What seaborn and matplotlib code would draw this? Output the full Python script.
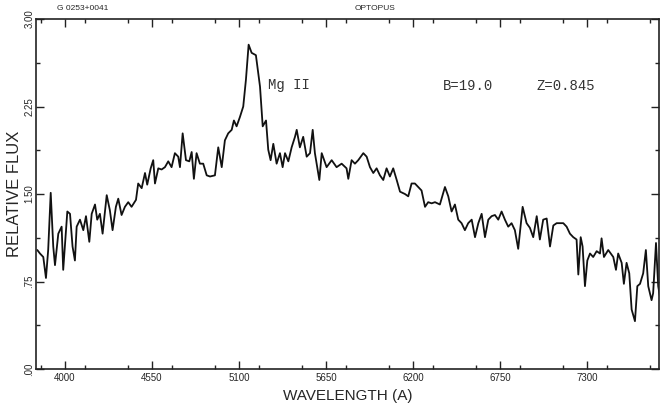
import matplotlib
matplotlib.use("Agg")
import matplotlib.pyplot as plt
import seaborn as sns
import pandas as pd
from matplotlib.ticker import MultipleLocator

sns.set_style("ticks")
plt.rcParams['font.family'] = ['Liberation Sans', 'DejaVu Sans']

wavelength = [3825, 3842, 3863, 3880, 3894, 3910, 3926, 3937, 3958, 3979, 3989, 4015, 4032, 4048,
              4063, 4074, 4095, 4116, 4133, 4154, 4169, 4190, 4204, 4221, 4238, 4264, 4284, 4301,
              4322, 4337, 4358, 4379, 4400, 4421, 4449, 4463, 4485, 4506, 4520, 4542, 4558, 4569,
              4590, 4611, 4632, 4653, 4674, 4695, 4716, 4727, 4744, 4765, 4786, 4801, 4815, 4832,
              4853, 4874, 4896, 4917, 4948, 4969, 4991, 5011, 5032, 5054, 5068, 5085, 5106, 5127,
              5144, 5161, 5180, 5207, 5233, 5250, 5271, 5285, 5300, 5317, 5338, 5359, 5376, 5391,
              5412, 5433, 5454, 5465, 5485, 5506, 5528, 5549, 5566, 5580, 5608, 5623, 5654, 5686,
              5717, 5749, 5780, 5791, 5812, 5833, 5854, 5886, 5907, 5928, 5949, 5970, 5991, 6012,
              6033, 6054, 6075, 6097, 6118, 6149, 6170, 6191, 6212, 6233, 6254, 6276, 6296, 6318,
              6339, 6370, 6402, 6423, 6444, 6465, 6486, 6507, 6528, 6549, 6571, 6592, 6613, 6634,
              6655, 6676, 6697, 6718, 6739, 6760, 6781, 6802, 6823, 6844, 6865, 6893, 6918, 6939,
              6960, 6982, 7002, 7023, 7045, 7066, 7087, 7108, 7150, 7171, 7192, 7213, 7234, 7245,
              7260, 7272, 7287, 7302, 7319, 7339, 7361, 7382, 7392, 7407, 7434, 7466, 7483, 7497,
              7519, 7533, 7550, 7567, 7582, 7603, 7618, 7635, 7655, 7672, 7687, 7708, 7718, 7736,
              7750, 7761]
flux = [1.02, 0.99, 0.96, 0.78, 1.02, 1.51, 1.05, 0.89, 1.16, 1.22, 0.85, 1.35, 1.33, 1.05,
        0.93, 1.22, 1.28, 1.19, 1.31, 1.09, 1.33, 1.41, 1.28, 1.33, 1.16, 1.49, 1.36, 1.19,
        1.39, 1.46, 1.32, 1.39, 1.43, 1.39, 1.45, 1.59, 1.55, 1.68, 1.58, 1.72, 1.79, 1.59,
        1.72, 1.71, 1.73, 1.78, 1.73, 1.85, 1.82, 1.73, 2.02, 1.79, 1.78, 1.86, 1.63, 1.85,
        1.76, 1.76, 1.66, 1.65, 1.66, 1.90, 1.73, 1.96, 2.02, 2.05, 2.13, 2.08, 2.16, 2.25,
        2.48, 2.78, 2.71, 2.69, 2.42, 2.08, 2.13, 1.88, 1.79, 1.93, 1.76, 1.85, 1.73, 1.85,
        1.78, 1.90, 1.99, 2.05, 1.90, 1.99, 1.82, 1.85, 2.05, 1.85, 1.62, 1.85, 1.73, 1.79,
        1.73, 1.76, 1.72, 1.63, 1.79, 1.76, 1.79, 1.85, 1.82, 1.73, 1.68, 1.72, 1.66, 1.62,
        1.72, 1.65, 1.72, 1.62, 1.52, 1.50, 1.48, 1.59, 1.59, 1.56, 1.53, 1.39, 1.43, 1.42,
        1.43, 1.41, 1.56, 1.48, 1.35, 1.41, 1.28, 1.25, 1.19, 1.25, 1.28, 1.13, 1.25, 1.33,
        1.13, 1.28, 1.31, 1.32, 1.28, 1.35, 1.28, 1.22, 1.25, 1.19, 1.03, 1.39, 1.25, 1.21,
        1.13, 1.31, 1.11, 1.28, 1.29, 1.05, 1.23, 1.25, 1.25, 1.22, 1.16, 1.13, 1.11, 0.81,
        1.13, 1.05, 0.71, 0.93, 0.99, 0.96, 1.01, 0.99, 1.12, 0.96, 1.02, 0.96, 0.85, 0.99,
        0.91, 0.73, 0.91, 0.82, 0.51, 0.41, 0.71, 0.73, 0.82, 1.02, 0.71, 0.59, 0.65, 1.08,
        0.71, 0.62]

x_ticks = [4000, 4550, 5100, 5650, 6200, 6750, 7300]
x_tick_labels = ["4000", "4550", "5100", "5650", "6200", "6750", "7300"]
y_ticks = [0.0, 0.75, 1.5, 2.25, 3.0]
y_tick_labels = [".00", ".75", "1.50", "2.25", "3.00"]

df = pd.DataFrame({"wavelength": wavelength, "flux": flux})

fig = plt.figure(figsize=(6.6, 4.03), dpi=100)
ax = fig.add_axes([36 / 660, 1 - 369 / 403, (659 - 36) / 660, (369 - 19) / 403])

sns.lineplot(data=df, x="wavelength", y="flux", ax=ax, color="#111111",
             linewidth=1.3, estimator=None, sort=False)

ax.set_xlim(3817, 7755)
ax.set_ylim(0, 3.0)
ax.set_xticks(x_ticks)
ax.set_xticklabels(x_tick_labels, fontsize=7)
ax.set_yticks(y_ticks)
ax.set_yticklabels(y_tick_labels, fontsize=7, rotation=90, va="center")
ax.xaxis.set_minor_locator(MultipleLocator(275))
ax.yaxis.set_minor_locator(MultipleLocator(0.375))
ax.tick_params(which="both", direction="in", top=True, right=True, width=1.0, color="#222222")
ax.tick_params(which="major", length=6)
ax.tick_params(axis="x", which="major", pad=3)
ax.tick_params(axis="y", which="major", pad=1)
ax.tick_params(which="minor", length=3)
for s in ax.spines.values():
    s.set_linewidth(1.2)
    s.set_color("#222222")
    s.set_visible(True)

ax.set_xlabel("WAVELENGTH (A)", fontsize=11, labelpad=4)
ax.set_ylabel("RELATIVE FLUX", fontsize=12)
ax.yaxis.set_label_coords(-0.0225, 0.5)

mono = ["Liberation Mono", "DejaVu Sans Mono"]
ax.text(5283, 2.43, "Mg II", family=mono, fontsize=10, va="center", ha="left", color="#333333")
ax.text(6389, 2.43, "B=19.0", family=mono, fontsize=10, va="center", ha="left", color="#333333")
ax.text(6983, 2.43, "Z=0.845", family=mono, fontsize=10, va="center", ha="left", color="#333333")

fig.text(57 / 660, 1 - 8 / 403, "G 0253+0041", fontsize=6, va="center", ha="left")
fig.text(375 / 660, 1 - 8 / 403, "OPTOPUS", fontsize=6, va="center", ha="center")

fig.savefig("out.png", dpi=100)
